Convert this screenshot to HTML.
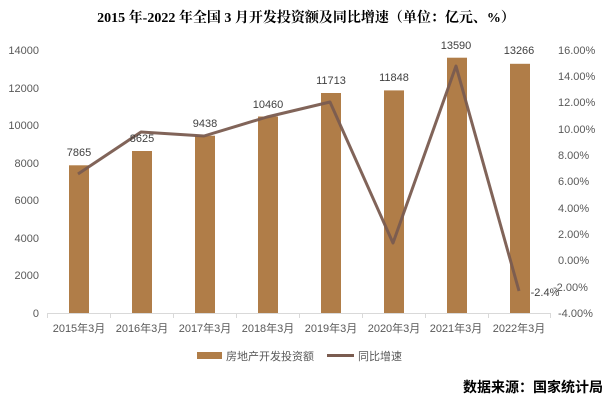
<!DOCTYPE html>
<html><head><meta charset="utf-8"><style>
body{margin:0;background:#fff;}
svg text{font-family:"Liberation Sans","Noto Sans CJK SC",sans-serif;}
</style></head><body>
<svg width="613" height="405" xmlns="http://www.w3.org/2000/svg">
<rect width="613" height="405" fill="#fff"/>
<text x="306" y="22" text-anchor="middle" font-size="14" font-weight="bold" style="font-family:'Liberation Serif','Noto Serif CJK SC',serif" fill="#000">2015 年-2022 年全国 3 月开发投资额及同比增速（单位：亿元、%）</text>
<g font-size="11" fill="#595959" text-anchor="end">
<text x="39" y="317">0</text><text x="39" y="279">2000</text><text x="39" y="242">4000</text><text x="39" y="204">6000</text><text x="39" y="167">8000</text><text x="39" y="129">10000</text><text x="39" y="92">12000</text><text x="39" y="54">14000</text>
</g>
<g font-size="11" fill="#595959" text-anchor="start">
<text x="558" y="54">16.00%</text><text x="558" y="80">14.00%</text><text x="558" y="106">12.00%</text><text x="558" y="133">10.00%</text><text x="558" y="159">8.00%</text><text x="558" y="185">6.00%</text><text x="558" y="212">4.00%</text><text x="558" y="238">2.00%</text><text x="558" y="264">0.00%</text><text x="553" y="291">-2.00%</text><text x="558" y="317">-4.00%</text>
</g>
<g fill="#b07d48">
<rect x="69" y="165.3" width="20" height="147.7"/>
<rect x="132" y="151" width="20" height="162"/>
<rect x="195" y="135.7" width="20" height="177.3"/>
<rect x="258" y="116.5" width="20" height="196.5"/>
<rect x="321" y="93" width="20" height="220"/>
<rect x="384" y="90.4" width="20" height="222.6"/>
<rect x="447" y="57.7" width="20" height="255.3"/>
<rect x="510" y="63.8" width="20" height="249.2"/>
</g>
<g stroke="#d9d9d9" stroke-width="1">
<line x1="47" y1="313.5" x2="551" y2="313.5"/>
<line x1="47.5" y1="313" x2="47.5" y2="318"/><line x1="110.5" y1="313" x2="110.5" y2="318"/><line x1="173.5" y1="313" x2="173.5" y2="318"/><line x1="236.5" y1="313" x2="236.5" y2="318"/><line x1="299.5" y1="313" x2="299.5" y2="318"/><line x1="362.5" y1="313" x2="362.5" y2="318"/><line x1="425.5" y1="313" x2="425.5" y2="318"/><line x1="488.5" y1="313" x2="488.5" y2="318"/><line x1="550.5" y1="313" x2="550.5" y2="318"/>
</g>
<polyline points="78,174 141,132 204,136 267,117 330,102 393,243 456,66 519,291" fill="none" stroke="#7a5c50" stroke-width="3" stroke-linejoin="round" opacity="0.95"/>
<g font-size="11" fill="#404040" text-anchor="middle">
<text x="79" y="156">7865</text><text x="142" y="142">8625</text><text x="205" y="127">9438</text><text x="268" y="108">10460</text><text x="331" y="84">11713</text><text x="394" y="81">11848</text><text x="456" y="49">13590</text><text x="519" y="54">13266</text>
<text x="545" y="296">-2.4%</text>
</g>
<g font-size="11" fill="#595959" text-anchor="middle">
<text x="79" y="332">2015年3月</text><text x="142" y="332">2016年3月</text><text x="205" y="332">2017年3月</text><text x="268" y="332">2018年3月</text><text x="331" y="332">2019年3月</text><text x="394" y="332">2020年3月</text><text x="456" y="332">2021年3月</text><text x="519" y="332">2022年3月</text>
</g>
<rect x="197" y="352" width="25" height="7" fill="#b07d48"/>
<text x="226" y="360" font-size="11" fill="#595959">房地产开发投资额</text>
<line x1="327" y1="355.5" x2="354" y2="355.5" stroke="#7a5c50" stroke-width="3"/>
<text x="358" y="360" font-size="11" fill="#595959">同比增速</text>
<text x="603" y="392" text-anchor="end" font-size="14" font-weight="bold" fill="#000">数据来源：国家统计局</text>
</svg>
</body></html>
